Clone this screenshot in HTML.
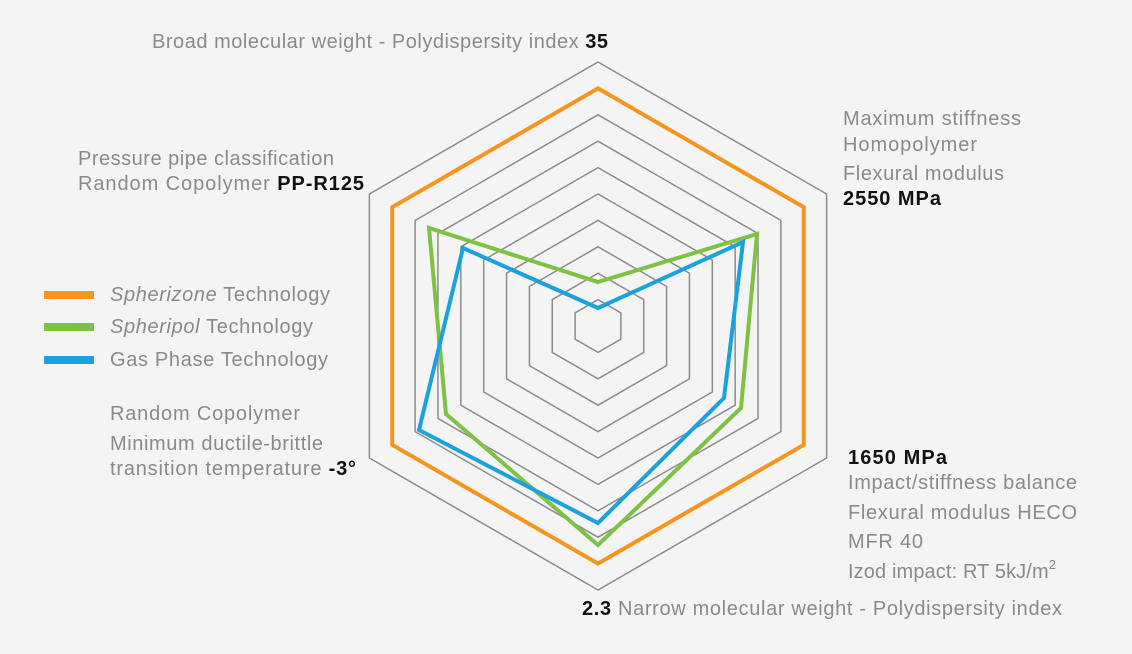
<!DOCTYPE html>
<html><head><meta charset="utf-8"><style>
html,body{margin:0;padding:0;background:#f4f4f4;}
svg{display:block;}
text{font-family:"Liberation Sans",sans-serif;font-size:20px;fill:#8a8a8a;}
.b{fill:#111;font-weight:bold;}
</style></head><body>
<svg width="1132" height="654" viewBox="0 0 1132 654">
<rect width="1132" height="654" fill="#f4f4f4"/>
<g fill="none" stroke="#8c8c8c" stroke-width="1.5">
<polygon points="0,-1 0.866,-0.5 0.866,0.5 0,1 -0.866,0.5 -0.866,-0.5" transform="translate(598,326) scale(264)" vector-effect="non-scaling-stroke"/>
<polygon points="0,-1 0.866,-0.5 0.866,0.5 0,1 -0.866,0.5 -0.866,-0.5" transform="translate(598,326) scale(211.2)" vector-effect="non-scaling-stroke"/>
<polygon points="0,-1 0.866,-0.5 0.866,0.5 0,1 -0.866,0.5 -0.866,-0.5" transform="translate(598,326) scale(184.8)" vector-effect="non-scaling-stroke"/>
<polygon points="0,-1 0.866,-0.5 0.866,0.5 0,1 -0.866,0.5 -0.866,-0.5" transform="translate(598,326) scale(158.4)" vector-effect="non-scaling-stroke"/>
<polygon points="0,-1 0.866,-0.5 0.866,0.5 0,1 -0.866,0.5 -0.866,-0.5" transform="translate(598,326) scale(132)" vector-effect="non-scaling-stroke"/>
<polygon points="0,-1 0.866,-0.5 0.866,0.5 0,1 -0.866,0.5 -0.866,-0.5" transform="translate(598,326) scale(105.6)" vector-effect="non-scaling-stroke"/>
<polygon points="0,-1 0.866,-0.5 0.866,0.5 0,1 -0.866,0.5 -0.866,-0.5" transform="translate(598,326) scale(79.2)" vector-effect="non-scaling-stroke"/>
<polygon points="0,-1 0.866,-0.5 0.866,0.5 0,1 -0.866,0.5 -0.866,-0.5" transform="translate(598,326) scale(52.8)" vector-effect="non-scaling-stroke"/>
<polygon points="0,-1 0.866,-0.5 0.866,0.5 0,1 -0.866,0.5 -0.866,-0.5" transform="translate(598,326) scale(26.4)" vector-effect="non-scaling-stroke"/>
</g>
<polygon points="0,-1 0.866,-0.5 0.866,0.5 0,1 -0.866,0.5 -0.866,-0.5" transform="translate(598,326) scale(237.6)" vector-effect="non-scaling-stroke" fill="none" stroke="#f7941d" stroke-width="4"/>
<polygon points="598,282 757,234 741,408 598,545 446,414 429,228" fill="none" stroke="#7dc242" stroke-width="4"/>
<polygon points="598,308 743,242 724,398 598,523 419,430 463,248" fill="none" stroke="#1ba1dc" stroke-width="4"/>

<text x="152" y="48" textLength="456" lengthAdjust="spacing">Broad molecular weight - Polydispersity index <tspan class="b">35</tspan></text>
<text x="843" y="125" textLength="178" lengthAdjust="spacing">Maximum stiffness</text>
<text x="843" y="151" textLength="134" lengthAdjust="spacing">Homopolymer</text>
<text x="843" y="180" textLength="161" lengthAdjust="spacing">Flexural modulus</text>
<text x="843" y="205" class="b" textLength="98" lengthAdjust="spacing">2550 MPa</text>
<text x="78" y="165" textLength="256" lengthAdjust="spacing">Pressure pipe classification</text>
<text x="78" y="190" textLength="286" lengthAdjust="spacing">Random Copolymer  <tspan class="b">PP-R125</tspan></text>
<rect x="44" y="291" width="50" height="8" fill="#f7941d"/>
<rect x="44" y="323" width="50" height="8" fill="#7dc242"/>
<rect x="44" y="356" width="50" height="8" fill="#1ba1dc"/>
<text x="110" y="301" textLength="220" lengthAdjust="spacing"><tspan font-style="italic">Spherizone</tspan> Technology</text>
<text x="110" y="333" textLength="203" lengthAdjust="spacing"><tspan font-style="italic">Spheripol</tspan> Technology</text>
<text x="110" y="366" textLength="218" lengthAdjust="spacing">Gas Phase Technology</text>
<text x="110" y="420" textLength="190" lengthAdjust="spacing">Random Copolymer</text>
<text x="110" y="450" textLength="213" lengthAdjust="spacing">Minimum ductile-brittle</text>
<text x="110" y="475" textLength="246" lengthAdjust="spacing">transition temperature  <tspan class="b">-3°</tspan></text>
<text x="848" y="464" class="b" textLength="99" lengthAdjust="spacing">1650 MPa</text>
<text x="848" y="489" textLength="229" lengthAdjust="spacing">Impact/stiffness balance</text>
<text x="848" y="519" textLength="229" lengthAdjust="spacing">Flexural modulus HECO</text>
<text x="848" y="548" textLength="75" lengthAdjust="spacing">MFR 40</text>
<text x="848" y="578" textLength="208" lengthAdjust="spacing">Izod impact: RT 5kJ/m<tspan dy="-9" font-size="13">2</tspan></text>
<text x="582" y="615" textLength="480" lengthAdjust="spacing"><tspan class="b">2.3</tspan>  Narrow molecular weight - Polydispersity index</text>
</svg>
</body></html>
